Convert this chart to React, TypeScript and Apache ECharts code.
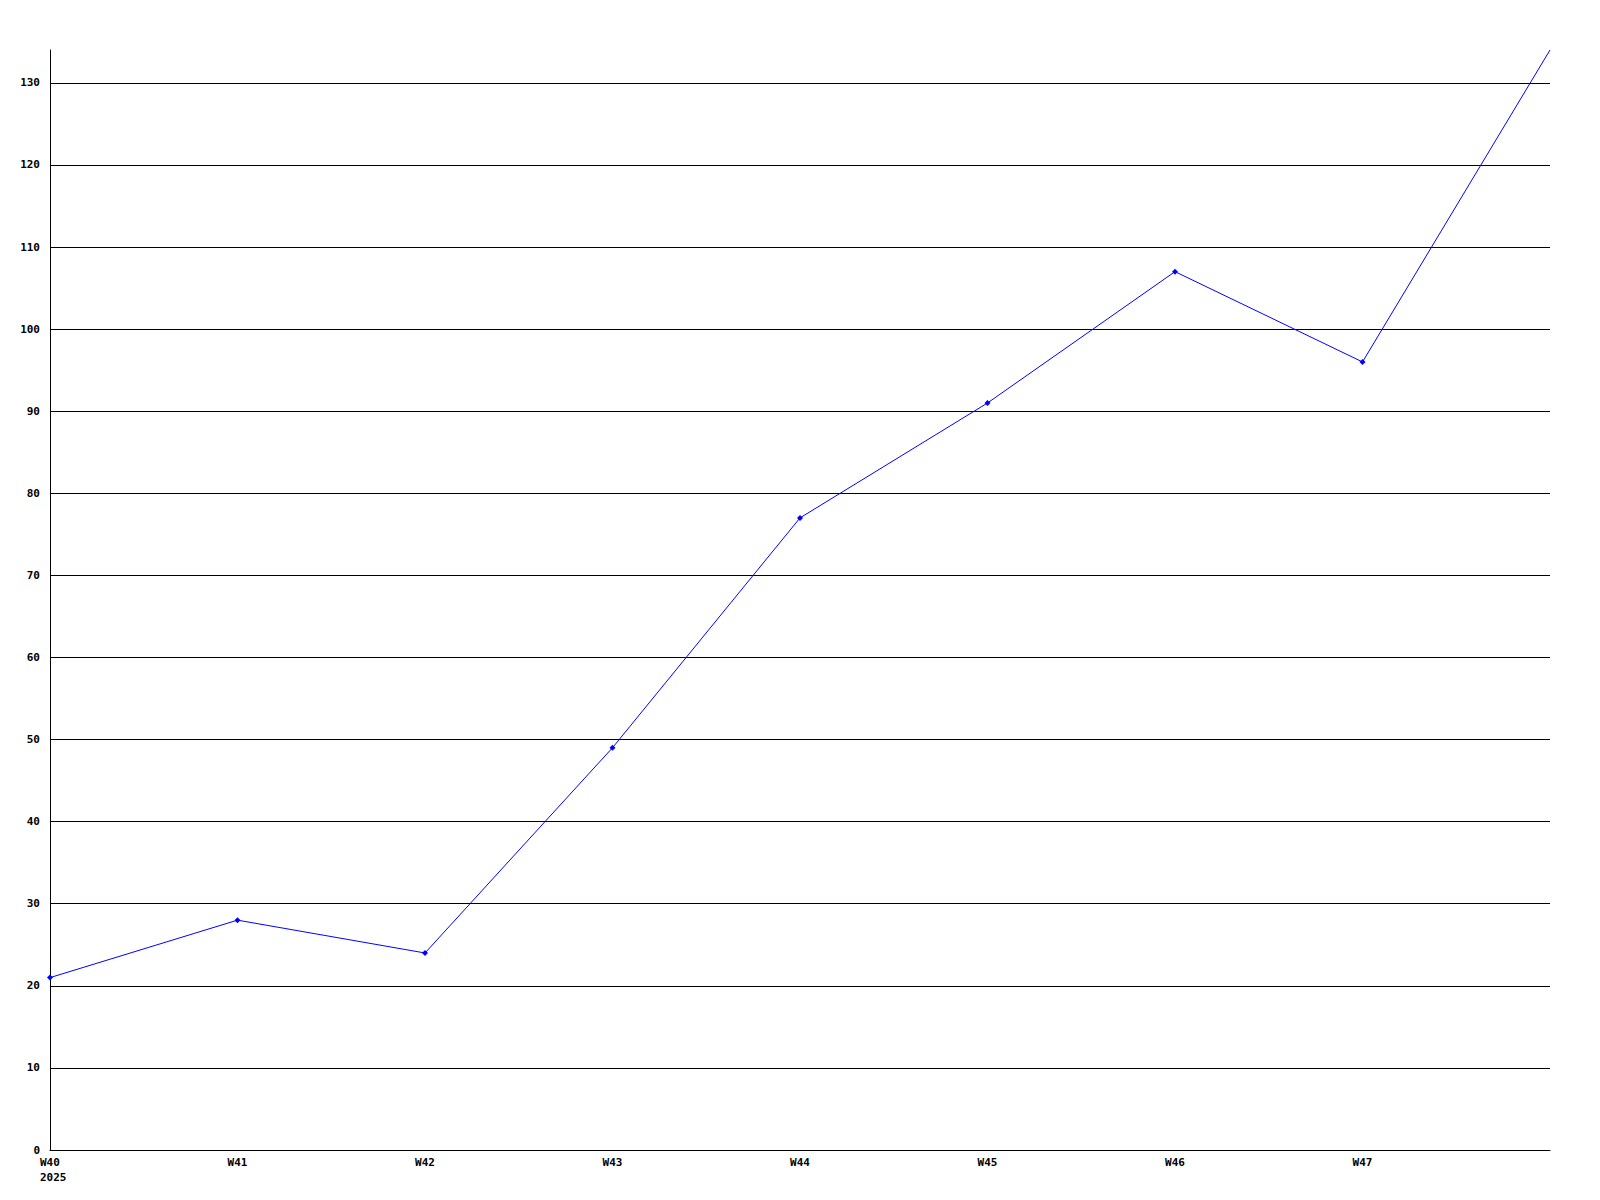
import React, { useEffect, useRef } from "react";
import * as echarts from "echarts";

const weeks = ["W40", "W41", "W42", "W43", "W44", "W45", "W46", "W47", "W48"];
const shownWeekLabels = ["W40", "W41", "W42", "W43", "W44", "W45", "W46", "W47", ""];
const yearLabel = "2025";
const values = [21, 28, 24, 49, 77, 91, 107, 96, 134];
const yMin = 0;
const yMax = 134;
const yInterval = 10;

export default function App() {
  const ref = useRef<HTMLDivElement>(null);
  useEffect(() => {
    if (!ref.current) return;
    const chart = echarts.init(ref.current, null, { renderer: "svg" });
    const font = {
      fontFamily: "DejaVu Sans Mono",
      fontWeight: "bold" as const,
      fontSize: 11,
      color: "#000",
    };
    const data = values.map((v, i) =>
      i === values.length - 1 ? { value: v, symbol: "none" } : v
    );
    chart.setOption({
      animation: false,
      backgroundColor: "#ffffff",
      grid: { left: 50, right: 50, top: 50, bottom: 50, containLabel: false },
      xAxis: {
        type: "category",
        data: weeks,
        boundaryGap: false,
        axisLine: { show: true, lineStyle: { color: "#000", width: 1 } },
        axisTick: { show: false },
        splitLine: { show: false },
        axisLabel: {
          ...font,
          interval: 0,
          margin: 5,
          lineHeight: 15,
          formatter: (v: string, i: number) =>
            i === 0
              ? `{a|${shownWeekLabels[i]}}\n{a|${yearLabel}}`
              : shownWeekLabels[i],
          rich: {
            a: { ...font, align: "left", width: 20, lineHeight: 15 },
          },
        },
      },
      yAxis: {
        type: "value",
        min: yMin,
        max: yMax,
        interval: yInterval,
        axisLine: { show: true, lineStyle: { color: "#000", width: 1 } },
        axisTick: { show: false },
        splitLine: {
          show: true,
          showMaxLine: false,
          lineStyle: { color: "#000", width: 1 },
        },
        axisLabel: { ...font, margin: 10, showMaxLabel: false },
      },
      series: [
        {
          type: "line",
          data,
          symbol: "diamond",
          symbolSize: 6,
          itemStyle: { color: "#0000ff" },
          lineStyle: { color: "#0000ff", width: 1 },
          clip: false,
        },
      ],
    });
    return () => chart.dispose();
  }, []);
  return (
    <div
      ref={ref}
      style={{ position: "fixed", left: 0, top: 0, width: 1600, height: 1200, background: "#fff" }}
    />
  );
}
